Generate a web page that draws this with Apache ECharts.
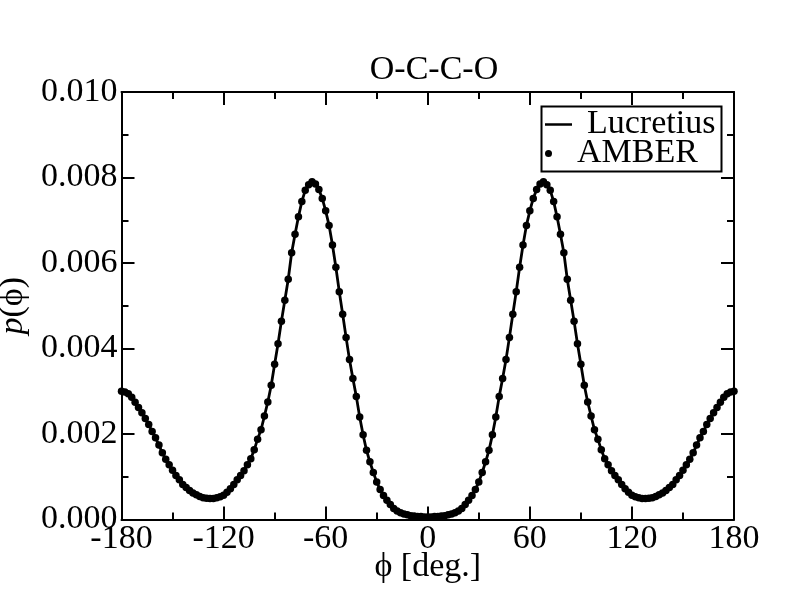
<!DOCTYPE html>
<html>
<head>
<meta charset="utf-8">
<script src="https://cdn.jsdelivr.net/npm/echarts@6/dist/echarts.min.js"></script>
<style>
  html, body { margin: 0; padding: 0; background: #fff; }
  #chart { width: 792px; height: 612px; }
</style>
</head>
<body>
<div id="chart"></div>
<script>
// dihedral angle, degrees
var phi = [
  -180, -178, -176, -174, -172, -170, -168, -166, -164, -162,
  -160, -158, -156, -154, -152, -150, -148, -146, -144, -142,
  -140, -138, -136, -134, -132, -130, -128, -126, -124, -122,
  -120, -118, -116, -114, -112, -110, -108, -106, -104, -102,
  -100, -98, -96, -94, -92, -90, -88, -86, -84, -82,
  -80, -78, -76, -74, -72, -70, -68, -66, -64, -62,
  -60, -58, -56, -54, -52, -50, -48, -46, -44, -42,
  -40, -38, -36, -34, -32, -30, -28, -26, -24, -22,
  -20, -18, -16, -14, -12, -10, -8, -6, -4, -2,
  0,
  2, 4, 6, 8, 10, 12, 14, 16, 18, 20,
  22, 24, 26, 28, 30, 32, 34, 36, 38, 40,
  42, 44, 46, 48, 50, 52, 54, 56, 58, 60,
  62, 64, 66, 68, 70, 72, 74, 76, 78, 80,
  82, 84, 86, 88, 90, 92, 94, 96, 98, 100,
  102, 104, 106, 108, 110, 112, 114, 116, 118, 120,
  122, 124, 126, 128, 130, 132, 134, 136, 138, 140,
  142, 144, 146, 148, 150, 152, 154, 156, 158, 160,
  162, 164, 166, 168, 170, 172, 174, 176, 178, 180
];

// p(phi) in units of 1e-3 (Lucretius and AMBER lie on top of each other)
var pLucretius = [
  3.00, 2.98, 2.94, 2.86, 2.74, 2.62, 2.50, 2.36, 2.22, 2.06,
  1.91, 1.74, 1.56, 1.41, 1.28, 1.15, 1.03, 0.93, 0.82, 0.75,
  0.68, 0.62, 0.58, 0.54, 0.51, 0.50, 0.49, 0.49, 0.51, 0.53,
  0.57, 0.64, 0.72, 0.82, 0.93, 1.03, 1.14, 1.28, 1.42, 1.63,
  1.88, 2.10, 2.42, 2.75, 3.14, 3.63, 4.11, 4.64, 5.13, 5.62,
  6.24, 6.67, 7.08, 7.44, 7.70, 7.83, 7.90, 7.85, 7.72, 7.51,
  7.22, 6.88, 6.42, 5.90, 5.33, 4.80, 4.26, 3.74, 3.30, 2.88,
  2.40, 1.98, 1.62, 1.35, 1.10, 0.88, 0.70, 0.56, 0.45, 0.35,
  0.26, 0.20, 0.16, 0.13, 0.11, 0.09, 0.08, 0.07, 0.07, 0.06,
  0.06,
  0.06, 0.07, 0.07, 0.08, 0.09, 0.11, 0.13, 0.16, 0.20, 0.26,
  0.35, 0.45, 0.56, 0.70, 0.88, 1.10, 1.35, 1.62, 1.98, 2.40,
  2.88, 3.30, 3.74, 4.26, 4.80, 5.33, 5.90, 6.42, 6.88, 7.22,
  7.51, 7.72, 7.85, 7.90, 7.83, 7.70, 7.44, 7.08, 6.67, 6.24,
  5.62, 5.13, 4.64, 4.11, 3.63, 3.14, 2.75, 2.42, 2.10, 1.88,
  1.63, 1.42, 1.28, 1.14, 1.03, 0.93, 0.82, 0.72, 0.64, 0.57,
  0.53, 0.51, 0.49, 0.49, 0.50, 0.51, 0.54, 0.58, 0.62, 0.68,
  0.75, 0.82, 0.93, 1.03, 1.15, 1.28, 1.41, 1.56, 1.74, 1.91,
  2.06, 2.22, 2.36, 2.50, 2.62, 2.74, 2.86, 2.94, 2.98, 3.00
];
var pAmber = pLucretius;

var xTicks = [-180, -120, -60, 0, 60, 120, 180];
var yTicks = ['0.000', '0.002', '0.004', '0.006', '0.008', '0.010'];

var FONT = 'Liberation Serif';
var FS = 34;

function pairs(xs, ys) {
  var res = [];
  for (var i = 0; i < xs.length; i++) {
    res.push([xs[i], ys[i] / 1000]);
  }
  return res;
}

var myChart = echarts.init(document.getElementById('chart'), null, { renderer: 'canvas' });

var tickStyle = { color: '#000', width: 2 };
function xAx(pos, labels) {
  return {
    type: 'value', position: pos, min: -180, max: 180, interval: 60,
    axisLine: { onZero: false, lineStyle: { color: '#000', width: 2 } },
    axisTick: { inside: true, length: 13, lineStyle: tickStyle },
    minorTick: { show: true, splitNumber: 2, length: 7, lineStyle: tickStyle },
    splitLine: { show: false },
    axisLabel: {
      show: labels, margin: 3, color: '#000', fontFamily: FONT, fontSize: FS,
      formatter: function (v) { return xTicks.indexOf(v) >= 0 ? String(v) : ''; }
    }
  };
}
function yAx(pos, labels) {
  return {
    type: 'value', position: pos, min: 0, max: 0.010, interval: 0.002,
    axisLine: { onZero: false, lineStyle: { color: '#000', width: 2 } },
    axisTick: { inside: true, length: 13, lineStyle: tickStyle },
    minorTick: { show: true, splitNumber: 2, length: 7, lineStyle: tickStyle },
    splitLine: { show: false },
    axisLabel: {
      show: labels, margin: 4, color: '#000', fontFamily: FONT, fontSize: FS,
      formatter: function (v) { return yTicks[Math.round(v / 0.002)]; }
    }
  };
}

var xBottom = xAx('bottom', true);
xBottom.name = 'ϕ [deg.]';
xBottom.nameLocation = 'middle';
xBottom.nameGap = 31;
xBottom.nameMoveOverlap = false;
xBottom.nameTextStyle = { color: '#000', fontFamily: FONT, fontSize: FS };

var yLeft = yAx('left', true);
yLeft.name = '{i|p}(ϕ)';
yLeft.nameLocation = 'middle';
yLeft.nameGap = 91;
yLeft.nameMoveOverlap = false;
yLeft.nameTextStyle = {
  color: '#000', fontFamily: FONT, fontSize: FS,
  rich: { i: { fontStyle: 'italic', fontFamily: FONT, fontSize: FS, color: '#000' } }
};

var legendText = { color: '#000', fontFamily: FONT, fontSize: FS, padding: [0, 0, 0, 10] };

option = {
  backgroundColor: '#fff',
  animation: false,
  title: {
    text: 'O-C-C-O',
    left: 429, top: 48, textAlign: 'center',
    textStyle: { color: '#000', fontFamily: FONT, fontSize: FS, fontWeight: 'normal' }
  },
  grid: { left: 121.5, right: 58, top: 92, bottom: 92.5, containLabel: false, outerBoundsMode: 'none' },
  legend: [
    { data: [{ name: 'Lucretius', icon: 'rect' }], left: 545, top: 107.5, itemWidth: 27, itemHeight: 2.5,
      padding: 0, textStyle: legendText },
    { data: [{ name: 'AMBER', icon: 'circle' }], left: 545, top: 136.5, itemWidth: 27, itemHeight: 7,
      padding: 0, textStyle: legendText }
  ],
  graphic: [{
    type: 'rect', left: 539, top: 104, z: 100,
    shape: { width: 180, height: 65 },
    style: { fill: null, stroke: '#000', lineWidth: 2 }
  }],
  xAxis: [xBottom, xAx('top', false)],
  yAxis: [yLeft, yAx('right', false)],
  series: [
    {
      name: 'Lucretius', type: 'line', xAxisIndex: 0, yAxisIndex: 0,
      data: pairs(phi, pLucretius),
      symbol: 'none', showSymbol: false, smooth: false,
      lineStyle: { color: '#000', width: 2.8 },
      itemStyle: { color: '#000' }
    },
    {
      name: 'AMBER', type: 'scatter', xAxisIndex: 0, yAxisIndex: 0,
      data: pairs(phi, pAmber),
      symbol: 'circle', symbolSize: 7.5,
      itemStyle: { color: '#000', opacity: 1 }
    }
  ]
};

myChart.setOption(option);
window.addEventListener('resize', function () {
  myChart.resize();
});
</script>
</body>
</html>
